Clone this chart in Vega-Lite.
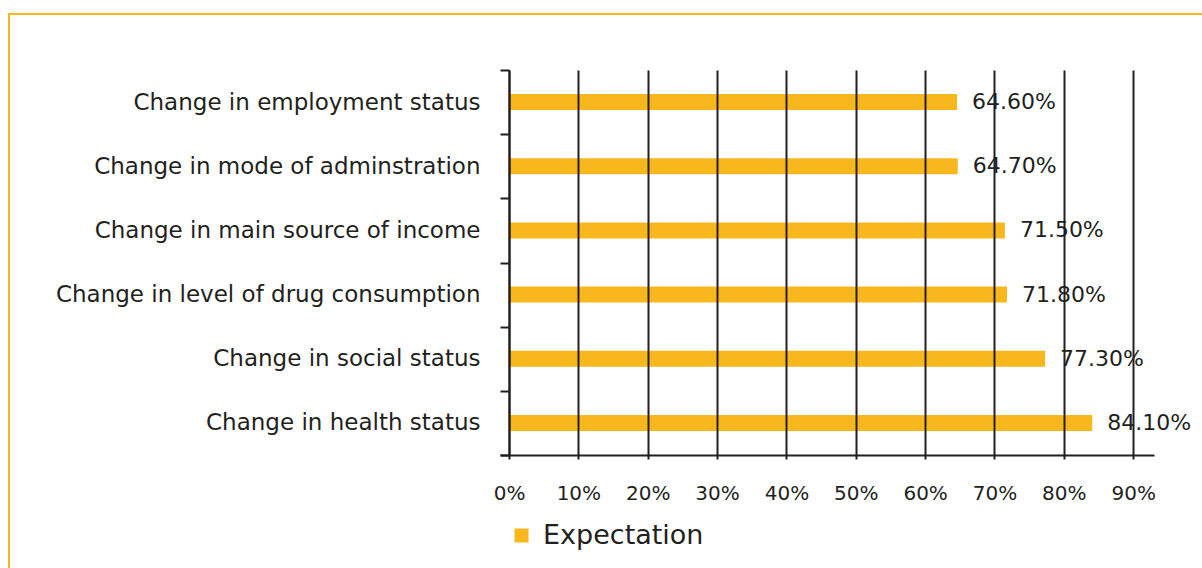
{
  "$schema": "https://vega.github.io/schema/vega-lite/v6.json",
  "width": 1250,
  "height": 600,
  "autosize": {"type": "none"},
  "padding": {"left": 9, "top": 14, "right": 0, "bottom": 0},
  "background": "white",
  "config": {"view": {"stroke": "#F9B71E", "strokeWidth": 2}, "font": "DejaVu Sans"},
  "data": {"values": [
    {"category": "Change in employment status", "value": 0.646},
    {"category": "Change in mode of adminstration", "value": 0.647},
    {"category": "Change in main source of income", "value": 0.715},
    {"category": "Change in level of drug consumption", "value": 0.718},
    {"category": "Change in social status", "value": 0.773},
    {"category": "Change in health status", "value": 0.841}
  ]},
  "encoding": {
    "y": {
      "field": "category", "type": "nominal", "sort": null,
      "scale": {"range": [56, 441], "paddingInner": 0, "paddingOuter": 0},
      "axis": {"title": null, "orient": "left", "offset": -500, "domainColor": "#231F20", "domainWidth": 2, "tickColor": "#231F20", "tickWidth": 2, "tickSize": 9, "tickBand": "extent", "labelFontSize": 23, "labelColor": "#231F20", "labelPadding": 20, "labelLimit": 0, "grid": false, "zindex": 1}
    }
  },
  "resolve": {"axis": {"x": "independent"}},
  "layer": [
    {
      "mark": {"type": "bar", "size": 16},
      "encoding": {
        "x": {
          "field": "value", "type": "quantitative",
          "scale": {"domain": [-0.013, 0.93], "range": [491, 1145], "nice": false},
          "axis": {"title": null, "orient": "top", "values": [0, 0.1, 0.2, 0.3, 0.4, 0.5, 0.6, 0.7, 0.8, 0.9], "grid": true, "gridColor": "#231F20", "gridWidth": 2, "gridOpacity": 1, "domain": false, "ticks": false, "labels": false, "zindex": 1}
        },
        "color": {
          "datum": "Expectation", "type": "nominal",
          "scale": {"range": ["#F9B71E"]},
          "legend": {"title": null, "orient": "none", "legendX": 499, "legendY": 508, "symbolType": "square", "symbolSize": 196, "symbolStrokeWidth": 0, "labelFontSize": 27, "labelColor": "#231F20", "labelOffset": 8, "labelLimit": 0}
        }
      }
    },
    {
      "mark": {"type": "text", "align": "left", "dx": 15, "fontSize": 22, "color": "#231F20"},
      "encoding": {
        "x": {
          "field": "value", "type": "quantitative",
          "axis": {"title": null, "orient": "bottom", "offset": -159, "values": [0, 0.1, 0.2, 0.3, 0.4, 0.5, 0.6, 0.7, 0.8, 0.9], "format": ".0%", "grid": false, "domainColor": "#231F20", "domainWidth": 2, "tickColor": "#231F20", "tickWidth": 2, "tickSize": 4, "labelFontSize": 20, "labelColor": "#231F20", "labelPadding": 24, "zindex": 1}
        },
        "text": {"field": "value", "format": ".2%"}
      }
    }
  ]
}
